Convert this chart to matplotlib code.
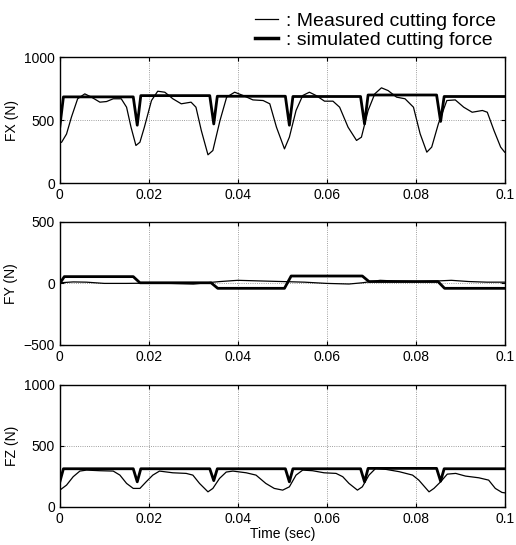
import matplotlib
matplotlib.use('Agg')
import matplotlib.pyplot as plt
from matplotlib.lines import Line2D

plt.rcParams['font.family'] = ['Liberation Sans', 'DejaVu Sans']

# ---- measured forces ----
t_fx = [0.0, 0.0004, 0.0015, 0.0026, 0.004, 0.0056, 0.0071, 0.009, 0.0105, 0.012, 0.0138,
        0.015, 0.016, 0.0171, 0.018, 0.019, 0.0206, 0.022, 0.0236, 0.0254, 0.0273, 0.0295,
        0.0306, 0.0318, 0.0333, 0.0344, 0.036, 0.0375, 0.0393, 0.0412, 0.0434, 0.0457,
        0.0472, 0.0487, 0.0505, 0.0516, 0.0531, 0.0546, 0.0561, 0.0576, 0.0595, 0.0614,
        0.0629, 0.0648, 0.0667, 0.0678, 0.0693, 0.0708, 0.0723, 0.0738, 0.0757, 0.0776,
        0.0795, 0.081, 0.0825, 0.0836, 0.0851, 0.087, 0.0889, 0.0908, 0.0927, 0.095,
        0.0961, 0.0976, 0.0991, 0.1]
fx_meas = [320, 325, 390, 524, 670, 709, 683, 643, 648, 670, 670,
           603, 444, 299, 325, 444, 656, 730, 722, 670, 630, 643,
           603, 418, 225, 259, 497, 683, 722, 696, 661, 656,
           630, 444, 272, 365, 577, 696, 722, 696, 651, 651,
           603, 444, 339, 365, 577, 709, 757, 735, 683, 670,
           603, 392, 246, 286, 471, 656, 661, 603, 563, 577,
           563, 418, 286, 246]

t_fy = [0.0, 0.003, 0.006, 0.01, 0.015, 0.02, 0.025, 0.03, 0.033, 0.036, 0.04, 0.045,
        0.05, 0.055, 0.06, 0.065, 0.068, 0.072, 0.075, 0.08, 0.085, 0.088, 0.092, 0.096, 0.1]
fy_meas = [5, 12, 10, 0, 0, 2, 0, -5, 5, 15, 25, 20,
           15, 10, 0, -5, 5, 25, 20, 15, 20, 25, 15, 10, 10]

t_fz = [0.0, 0.0015, 0.003, 0.0045, 0.006, 0.009, 0.012, 0.0135, 0.015, 0.0165, 0.018,
        0.0194, 0.0209, 0.0224, 0.0254, 0.0284, 0.0299, 0.0314, 0.0333, 0.0344, 0.0359,
        0.0374, 0.0389, 0.0419, 0.0441, 0.0463, 0.0482, 0.0501, 0.0516, 0.0531, 0.0546,
        0.0568, 0.0594, 0.0621, 0.0636, 0.065, 0.0669, 0.068, 0.0695, 0.071, 0.0733,
        0.0763, 0.0793, 0.0807, 0.083, 0.0841, 0.0856, 0.0871, 0.089, 0.0912, 0.0942,
        0.0964, 0.0979, 0.0994, 0.1]
fz_meas = [137, 178, 247, 293, 301, 296, 293, 260, 192, 151, 151,
           205, 260, 293, 279, 274, 260, 192, 123, 151, 233,
           285, 293, 279, 260, 192, 151, 137, 164, 260, 301,
           296, 279, 274, 247, 192, 137, 164, 260, 315, 307,
           288, 260, 219, 123, 151, 205, 268, 274, 252, 238,
           219, 151, 118, 115]

# ---- simulated forces ----
t_sfx = [0.0, 0.0008, 0.0165, 0.0174, 0.0182, 0.0337, 0.0346, 0.0354, 0.0507, 0.0516,
         0.0524, 0.0676, 0.0685, 0.0693, 0.0847, 0.0856, 0.0864, 0.1]
fx_sim = [450, 685, 685, 460, 695, 695, 470, 690, 690, 460,
          688, 688, 470, 700, 700, 490, 688, 688]

t_sfy = [0.0, 0.001, 0.0165, 0.018, 0.034, 0.0355, 0.0505, 0.052, 0.068, 0.0695,
         0.085, 0.0865, 0.1]
fy_sim = [0, 55, 55, 5, 5, -40, -40, 60, 60, 15, 15, -40, -40]

t_sfz = [0.0, 0.0008, 0.0165, 0.0174, 0.0182, 0.0337, 0.0346, 0.0354, 0.0507, 0.0516,
         0.0524, 0.0676, 0.0685, 0.0693, 0.0847, 0.0856, 0.0864, 0.1]
fz_sim = [205, 312, 312, 205, 312, 312, 215, 312, 312, 205,
          312, 312, 205, 315, 315, 210, 312, 312]

panels = [
    ('FX (N)', t_fx, fx_meas, t_sfx, fx_sim, (0, 1000), [0, 500, 1000]),
    ('FY (N)', t_fy, fy_meas, t_sfy, fy_sim, (-500, 500), [-500, 0, 500]),
    ('FZ (N)', t_fz, fz_meas, t_sfz, fz_sim, (0, 1000), [0, 500, 1000]),
]
xticks = [0, 0.02, 0.04, 0.06, 0.08, 0.1]
xticklabels = ['0', '0.02', '0.04', '0.06', '0.08', '0.1']

fig = plt.figure(figsize=(5.16, 5.45), dpi=100)
positions = [[0.116, 0.664, 0.862, 0.231],
             [0.116, 0.367, 0.862, 0.226],
             [0.116, 0.070, 0.862, 0.224]]

axes = []
for pos, (ylab, tm, ym, ts, ys, ylim, yt) in zip(positions, panels):
    ax = fig.add_axes(pos)
    ax.plot(tm, ym, color='black', lw=0.9)
    ax.plot(ts, ys, color='black', lw=2.0)
    ax.set_xlim(0, 0.1)
    ax.set_ylim(*ylim)
    ax.set_xticks(xticks)
    ax.set_xticklabels(xticklabels)
    ax.set_yticks(yt)
    ax.set_ylabel(ylab, fontsize=10, labelpad=4)
    ax.grid(True, linestyle=':', color='gray', linewidth=0.6)
    ax.tick_params(direction='in', top=True, right=True, labelsize=10, length=3)
    for s in ax.spines.values():
        s.set_linewidth(1.0)
    axes.append(ax)

axes[2].set_xlabel('Time (sec)', fontsize=10, labelpad=1)

handles = [Line2D([], [], color='black', lw=0.9), Line2D([], [], color='black', lw=2.5)]
fig.legend(handles, [': Measured cutting force', ': simulated cutting force'],
           loc='upper right', bbox_to_anchor=(0.995, 1.01), frameon=False,
           fontsize=14, handlelength=1.2, handletextpad=0.4, labelspacing=0.1)

fig.savefig('out.png', dpi=100)
